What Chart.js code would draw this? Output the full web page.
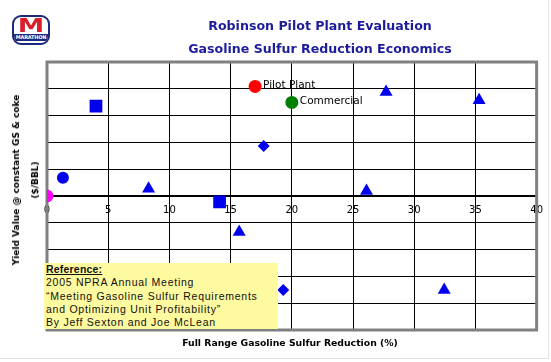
<!DOCTYPE html>
<html>
<head>
<meta charset="utf-8">
<script src="https://cdn.jsdelivr.net/npm/chart.js@4"></script>
<style>
  html, body { margin: 0; padding: 0; background: #fff; }
  #wrap { position: relative; width: 551px; height: 362px; overflow: hidden; }
  #chart { position: absolute; left: 0; top: 0; }
  .title { position: absolute; left: 0; width: 640px; text-align: center; color: #1c1c9c;
           font: bold 12.6px "DejaVu Sans", sans-serif; white-space: nowrap; }
  #ytitle { position: absolute; left: 26px; top: 180px; width: 0; height: 0; }
  #ytitle div { position: absolute; transform: translate(-50%, -50%) rotate(-90deg); white-space: nowrap;
                text-align: center; font: bold 9px "DejaVu Sans", sans-serif; line-height: 19px; color: #000; }
  #xtitle { position: absolute; left: 290px; top: 342px; transform: translate(-50%, -50%); white-space: nowrap;
            font: bold 9.3px "DejaVu Sans", sans-serif; color: #000; }
  #ref { position: absolute; left: 44px; top: 263px; width: 234px; height: 66px; background: #fdfaa0;
         font: 10.5px "Liberation Sans", Arial, sans-serif; line-height: 13.3px; color: #111; padding-left: 2px;
         box-sizing: border-box; letter-spacing: 0.75px; white-space: nowrap; overflow: hidden; }
  #ref b { text-decoration: underline; letter-spacing: 0.2px; }
  #logo { position: absolute; left: 12px; top: 15px; width: 34px; height: 26px; border: 2px solid #1b2a7a;
          border-radius: 9px; background: #fff; overflow: hidden; }
  #logo .m { position: absolute; left: 0; right: 0; top: -3px; text-align: center; color: #d81e2c;
             font: 900 19px "DejaVu Sans", sans-serif; transform: scaleX(1.4); }
  #logo .n { position: absolute; left: 0; right: 0; bottom: 2px; height: 7px; background: #1b2a7a; color: #fff;
             font: bold 5px "DejaVu Sans", sans-serif; line-height: 7px; text-align: center; letter-spacing: -0.2px; }
  #edge { position: absolute; left: 0; top: 0; width: 548px; height: 358px; border-right: 1px solid #e2e2e2;
          border-bottom: 1px solid #e2e2e2; pointer-events: none; }
</style>
</head>
<body>
<div id="wrap">
  <div id="edge"></div>
  <canvas id="chart" width="551" height="362"></canvas>
  <div id="logo"><div class="m">M</div><div class="n">MARATHON</div></div>
  <div class="title" style="top:18px">Robinson Pilot Plant Evaluation</div>
  <div class="title" style="top:41px">Gasoline Sulfur Reduction Economics</div>
  <div id="ytitle"><div>Yield Value @ constant GS &amp; coke<br>($/BBL)</div></div>
  <div id="xtitle">Full Range Gasoline Sulfur Reduction (%)</div>
  <div id="ref"><b>Reference:</b><br>2005 NPRA Annual Meeting<br>“Meeting Gasoline Sulfur Requirements<br>and Optimizing Unit Profitability”<br>By Jeff Sexton and Joe McLean</div>
</div>
<script>
// values (x = % sulfur reduction, y = yield value $/BBL)
const triangleX = [8.3, 15.7, 26.1, 27.7, 32.45, 35.3];
const triangleY = [0.27, -1.34, 0.19, 3.88, -3.51, 3.57];
const squareX = [4.0, 14.1];
const squareY = [3.35, -0.22];
const diamondX = [17.7, 19.3];
const diamondY = [1.87, -3.51];
const circleX = [1.3];
const circleY = [0.68];
const baseX = [0];
const baseY = [0];
const pilotX = [17.0];
const pilotY = [4.09];
const commercialX = [20.0];
const commercialY = [3.49];
const xTicks = [0, 5, 10, 15, 20, 25, 30, 35, 40];

const pts = (xs, ys) => xs.map((x, i) => ({ x: x, y: ys[i] }));

// gray frame round the plot area, under the markers
const framePlugin = {
  id: 'frame',
  beforeDatasetsDraw(chart) {
    const a = chart.chartArea, ctx = chart.ctx;
    ctx.save();
    ctx.strokeStyle = '#808080';
    ctx.lineWidth = 3;
    ctx.strokeRect(a.left, a.top, a.right - a.left, a.bottom - a.top);
    ctx.restore();
  }
};

// text next to the named points
const pointLabels = {
  id: 'pointLabels',
  afterDatasetsDraw(chart) {
    const ctx = chart.ctx;
    ctx.save();
    ctx.font = '10.5px "DejaVu Sans", sans-serif';
    ctx.fillStyle = '#000';
    ctx.textBaseline = 'middle';
    chart.data.datasets.forEach((ds, i) => {
      if (!ds.tag) return;
      const p = chart.getDatasetMeta(i).data[0];
      ctx.fillText(ds.tag, p.x + 8, p.y - 1);
    });
    ctx.restore();
  }
};

const blue = '#0000ee';
new Chart(document.getElementById('chart'), {
  type: 'scatter',
  data: {
    datasets: [
      { data: pts(triangleX, triangleY), pointStyle: 'triangle', radius: 7.5, backgroundColor: blue, borderWidth: 0 },
      { data: pts(squareX, squareY), pointStyle: 'rect', radius: 9, backgroundColor: blue, borderWidth: 0 },
      { data: pts(diamondX, diamondY), pointStyle: 'rectRot', radius: 6, backgroundColor: blue, borderWidth: 0 },
      { data: pts(circleX, circleY), pointStyle: 'circle', radius: 6, backgroundColor: blue, borderWidth: 0 },
      { data: pts(baseX, baseY), pointStyle: 'circle', radius: 6.5, backgroundColor: '#ff00ff', borderWidth: 0 },
      { data: pts(pilotX, pilotY), tag: 'Pilot Plant', pointStyle: 'circle', radius: 6.5, backgroundColor: '#ff0000', borderWidth: 0 },
      { data: pts(commercialX, commercialY), tag: 'Commercial', pointStyle: 'circle', radius: 6.5, backgroundColor: '#008000', borderWidth: 0 }
    ]
  },
  options: {
    responsive: false,
    animation: false,
    devicePixelRatio: 1,
    layout: { padding: { left: 47, right: 14, top: 62, bottom: 32 } },
    plugins: { legend: { display: false }, tooltip: { enabled: false } },
    scales: {
      x: {
        type: 'linear', min: 0, max: 40,
        position: { y: 0 },
        afterBuildTicks: s => { s.ticks = xTicks.map(v => ({ value: v })); },
        ticks: { color: '#000', padding: 8, font: { family: '"DejaVu Sans", sans-serif', size: 10 } },
        grid: { color: '#000', lineWidth: 1, drawTicks: false },
        border: { color: '#000', width: 2 }
      },
      y: {
        min: -5, max: 5,
        ticks: { display: false, stepSize: 1 },
        grid: { color: '#000', lineWidth: 1, drawTicks: false },
        border: { display: false }
      }
    }
  },
  plugins: [framePlugin, pointLabels]
});
</script>
</body>
</html>
